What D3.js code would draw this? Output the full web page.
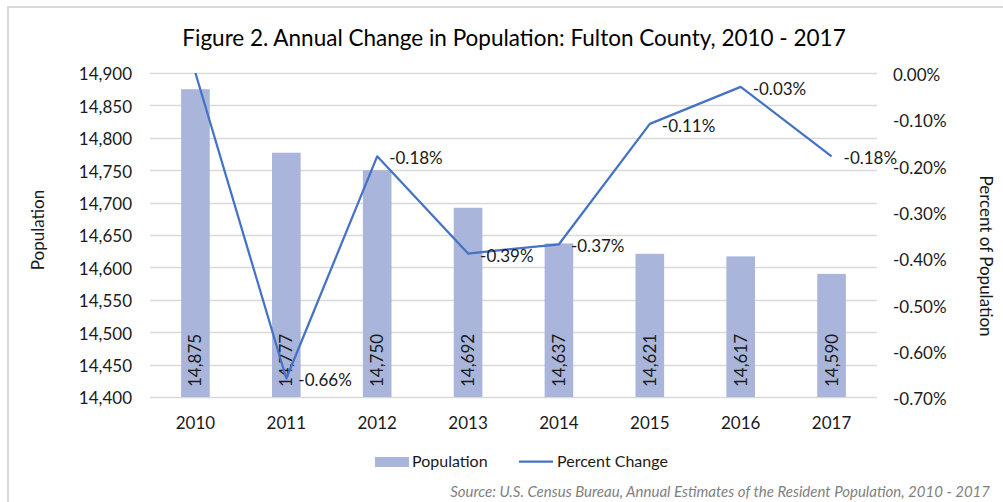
<!DOCTYPE html>
<html>
<head>
<meta charset="utf-8">
<script src="https://cdn.jsdelivr.net/npm/d3@7"></script>
<style>
  body { margin: 0; background: #fff; }
  svg text { font-family: Lato, "Liberation Sans", sans-serif; }
</style>
</head>
<body>
<svg id="chart"></svg>
<script>
// Data
const years = ["2010", "2011", "2012", "2013", "2014", "2015", "2016", "2017"];
const population = [14875, 14777, 14750, 14692, 14637, 14621, 14617, 14590];
const percentChange = [0, -0.66, -0.18, -0.39, -0.37, -0.11, -0.03, -0.18];
const percentLabels = ["", "-0.66%", "-0.18%", "-0.39%", "-0.37%", "-0.11%", "-0.03%", "-0.18%"];
const popTicks = [14400, 14450, 14500, 14550, 14600, 14650, 14700, 14750, 14800, 14850, 14900];
const pctTicks = [0, -0.1, -0.2, -0.3, -0.4, -0.5, -0.6, -0.7];

const width = 1003;
const height = 502;
const plot = { left: 150, right: 877, top: 73, bottom: 397 };

const locale = d3.formatLocale({ decimal: ".", thousands: ",", grouping: [3], currency: ["$", ""], minus: "-" });
const fmtPop = locale.format(",");
const fmtPct = d => locale.format(".2f")(d) + "%";

const svg = d3.select("#chart")
  .attr("width", width)
  .attr("height", height);

// Frame
svg.append("path")
  .attr("d", `M8,${height} L8,7 L${width},7`)
  .attr("fill", "none")
  .attr("stroke", "#d9d9d9")
  .attr("stroke-width", 2);

// Scales
const x = d3.scaleBand()
  .domain(years)
  .range([plot.left, plot.right])
  .padding(0);

const y = d3.scaleLinear()
  .domain([14400, 14900])
  .range([plot.bottom, plot.top]);

const y2 = d3.scaleLinear()
  .domain([-0.7, 0])
  .range([plot.bottom, plot.top]);

const barWidth = x.bandwidth() * 0.315;
const cx = d => x(d) + x.bandwidth() / 2;

// Gridlines
svg.append("g")
  .selectAll("line")
  .data(popTicks)
  .join("line")
  .attr("x1", plot.left)
  .attr("x2", plot.right)
  .attr("y1", d => Math.round(y(d)) + 0.5)
  .attr("y2", d => Math.round(y(d)) + 0.5)
  .attr("stroke", "#d9d9d9")
  .attr("stroke-width", 1.3);

// Left axis
const leftAxis = svg.append("g")
  .attr("transform", `translate(${plot.left},0)`)
  .call(d3.axisLeft(y).tickValues(popTicks).tickFormat(fmtPop).tickSize(0).tickPadding(18));
leftAxis.select(".domain").remove();
leftAxis.selectAll("text").attr("font-size", 17).attr("fill", "#1a1a1a").attr("dy", "0.4em");

// Right axis
const rightAxis = svg.append("g")
  .attr("transform", `translate(${plot.right},0)`)
  .call(d3.axisRight(y2).tickValues(pctTicks).tickFormat(fmtPct).tickSize(0).tickPadding(16));
rightAxis.select(".domain").remove();
rightAxis.selectAll("text").attr("font-size", 17).attr("fill", "#1a1a1a").attr("dy", "0.45em");

// Bottom axis
const bottomAxis = svg.append("g")
  .attr("transform", `translate(0,${plot.bottom})`)
  .call(d3.axisBottom(x).tickSize(0).tickPadding(20));
bottomAxis.select(".domain").remove();
bottomAxis.selectAll("text").attr("font-size", 17).attr("fill", "#1a1a1a");

// Bars
svg.append("g")
  .selectAll("rect")
  .data(years)
  .join("rect")
  .attr("x", d => cx(d) - barWidth / 2)
  .attr("width", barWidth)
  .attr("y", (d, i) => y(population[i]))
  .attr("height", (d, i) => plot.bottom - y(population[i]))
  .attr("fill", "#a9b5db");

// Bar labels
svg.append("g")
  .selectAll("text")
  .data(years)
  .join("text")
  .attr("transform", d => `translate(${cx(d) + 6},${plot.bottom - 10}) rotate(-90)`)
  .attr("font-size", 17)
  .attr("fill", "#1a1a1a")
  .text((d, i) => fmtPop(population[i]));

// Line
const line = d3.line()
  .x(d => cx(d))
  .y((d, i) => y2(percentChange[i]));

svg.append("path")
  .datum(years)
  .attr("d", line)
  .attr("fill", "none")
  .attr("stroke", "#4472c4")
  .attr("stroke-width", 2.25)
  .attr("stroke-linejoin", "round");

// Line labels
svg.append("g")
  .selectAll("text")
  .data(years)
  .join("text")
  .attr("x", d => cx(d) + 12)
  .attr("y", (d, i) => y2(percentChange[i]) + 8)
  .attr("font-size", 17)
  .attr("fill", "#1a1a1a")
  .text((d, i) => percentLabels[i]);

// Title
svg.append("text")
  .attr("x", 514)
  .attr("y", 46)
  .attr("text-anchor", "middle")
  .attr("font-size", 22.5)
  .attr("fill", "#000")
  .text("Figure 2. Annual Change in Population: Fulton County, 2010 - 2017");

// Axis titles
svg.append("text")
  .attr("transform", "translate(44,230) rotate(-90)")
  .attr("text-anchor", "middle")
  .attr("font-size", 17)
  .attr("fill", "#1a1a1a")
  .text("Population");

svg.append("text")
  .attr("transform", "translate(980,256) rotate(90)")
  .attr("text-anchor", "middle")
  .attr("font-size", 17)
  .attr("fill", "#1a1a1a")
  .text("Percent of Population");

// Legend
const legend = svg.append("g");
legend.append("rect")
  .attr("x", 375)
  .attr("y", 457)
  .attr("width", 34)
  .attr("height", 10)
  .attr("fill", "#a9b5db");
legend.append("text")
  .attr("x", 412)
  .attr("y", 467)
  .attr("font-size", 16)
  .attr("fill", "#1a1a1a")
  .text("Population");
legend.append("line")
  .attr("x1", 519)
  .attr("x2", 553)
  .attr("y1", 461.5)
  .attr("y2", 461.5)
  .attr("stroke", "#4472c4")
  .attr("stroke-width", 2.25);
legend.append("text")
  .attr("x", 557)
  .attr("y", 467)
  .attr("font-size", 16)
  .attr("fill", "#1a1a1a")
  .text("Percent Change");

// Source
svg.append("text")
  .attr("x", 990)
  .attr("y", 497)
  .attr("text-anchor", "end")
  .attr("font-size", 15)
  .attr("font-style", "italic")
  .attr("fill", "#7f7f7f")
  .text("Source: U.S. Census Bureau, Annual Estimates of the Resident Population, 2010 - 2017");
</script>
</body>
</html>
